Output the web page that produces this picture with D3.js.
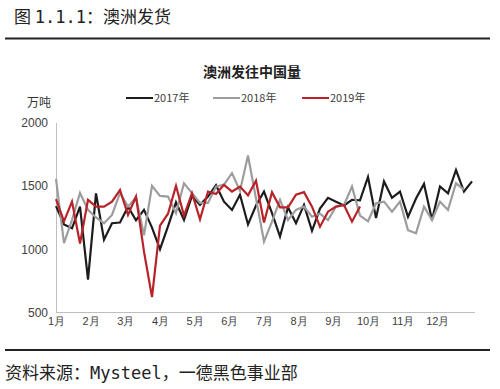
<!DOCTYPE html>
<html>
<head>
<meta charset="utf-8">
<script src="https://cdn.jsdelivr.net/npm/d3@7"></script>
<style>
  body { margin: 0; background: #fff; }
  svg { display: block; font-family: "Noto Sans CJK SC", "Noto Sans", sans-serif; }
</style>
</head>
<body>
<svg id="chart"></svg>
<script>
// weekly shipments, 10k tonnes
const series2017 = [1340, 1195, 1165, 1335, 760, 1440, 1075, 1205, 1210, 1335, 1228, 1310, 1170, 1000,
  1180, 1370, 1230, 1420, 1350, 1415, 1505, 1375, 1310, 1430, 1195, 1345, 1455, 1285, 1100, 1330,
  1205, 1350, 1145, 1320, 1405, 1375, 1345, 1390, 1385, 1570, 1245, 1535, 1405, 1455, 1255, 1400,
  1515, 1230, 1495, 1440, 1625, 1455, 1535]
const series2018 = [1555, 1048, 1230, 1444, 1310, 1250, 1205, 1270, 1444, 1336, 1410, 1110, 1500, 1420,
  1415, 1285, 1520, 1442, 1365, 1365, 1494, 1510, 1600, 1460, 1740, 1400, 1060, 1217, 1389, 1230,
  1310, 1336, 1256, 1280, 1230, 1336, 1349, 1494, 1265, 1220, 1362, 1375, 1296, 1375, 1150, 1126,
  1336, 1230, 1375, 1310, 1521, 1468]
const series2019 = [1395, 1220, 1375, 1045, 1389, 1336, 1336, 1375, 1468, 1270, 1415, 980, 621, 1185,
  1280, 1500, 1265, 1442, 1236, 1455, 1435, 1508, 1455, 1494, 1425, 1540, 1210, 1450, 1330, 1330,
  1430, 1450, 1336, 1177, 1296, 1336, 1349, 1217, 1336]
const seriesNames = ['2017年', '2018年', '2019年']
const seriesColors = ['#1c1c1c', '#9d9d9d', '#b82228']
const monthLabels = ['1月', '2月', '3月', '4月', '5月', '6月', '7月', '8月', '9月', '10月', '11月', '12月']
const yTicks = [500, 1000, 1500, 2000]

const width = 500
const height = 389
const mono = '"DejaVu Sans Mono", "Liberation Mono", monospace'

const svg = d3.select('#chart')
  .attr('width', width)
  .attr('height', height)

// page header + rules
const header = svg.append('text')
  .attr('x', 14).attr('y', 23)
  .style('font-size', '17px').style('fill', '#222')
header.append('tspan').text('图 ')
header.append('tspan').style('font-family', mono).text('1.1.1')
header.append('tspan').text('：澳洲发货')

svg.append('line')
  .attr('x1', 5).attr('x2', 490).attr('y1', 38.5).attr('y2', 38.5)
  .style('stroke', '#222').style('stroke-width', 2)

svg.append('line')
  .attr('x1', 5).attr('x2', 490).attr('y1', 350).attr('y2', 350)
  .style('stroke', '#222').style('stroke-width', 2)

const source = svg.append('text')
  .attr('x', 5).attr('y', 379)
  .style('font-size', '17px').style('fill', '#222')
source.append('tspan').text('资料来源：')
source.append('tspan').style('font-family', mono).text('Mysteel')
source.append('tspan').text('，一德黑色事业部')

// chart title
svg.append('text')
  .attr('x', 252).attr('y', 77)
  .attr('text-anchor', 'middle')
  .style('font-size', '14px').style('font-weight', 'bold').style('fill', '#222')
  .text('澳洲发往中国量')

const x = d3.scaleLinear()
  .domain([0, 52])
  .range([56, 472])

const y = d3.scaleLinear()
  .domain([500, 2000])
  .range([312.5, 122.5])

// axes
const yAxis = svg.append('g')
  .attr('transform', 'translate(56,0)')
  .call(d3.axisLeft(y).tickValues(yTicks).tickFormat(d3.format('d')).tickSize(0).tickPadding(8))
yAxis.select('.domain').style('stroke', '#bfbfbf')
yAxis.selectAll('text').style('font-size', '12px').style('fill', '#404040')
  .style('font-family', '"Liberation Sans", sans-serif')

const xAxis = svg.append('g')
  .attr('transform', 'translate(0,312.5)')
  .call(d3.axisBottom(x)
    .tickValues(monthLabels.map((d, i) => i * 52 / 12))
    .tickFormat((d, i) => monthLabels[i])
    .tickSize(0).tickPadding(5))
xAxis.select('.domain').attr('d', 'M56,0H475').style('stroke', '#bfbfbf')
xAxis.selectAll('text').style('font-size', '11px').style('fill', '#404040')

svg.append('text')
  .attr('x', 27).attr('y', 107)
  .style('font-size', '12px').style('fill', '#333')
  .text('万吨')

// lines
const line = d3.line()
  .x((d, i) => x(i))
  .y(d => y(d))

const allSeries = [series2017, series2018, series2019]
allSeries.forEach((s, k) => {
  svg.append('path')
    .datum(s)
    .attr('d', line)
    .style('fill', 'none')
    .style('stroke', seriesColors[k])
    .style('stroke-width', 2.2)
    .style('stroke-linejoin', 'miter')
})

// legend
const legendX = [126, 213, 302]
seriesNames.forEach((name, k) => {
  svg.append('line')
    .attr('x1', legendX[k]).attr('x2', legendX[k] + 27)
    .attr('y1', 98).attr('y2', 98)
    .style('stroke', seriesColors[k]).style('stroke-width', 2)
  svg.append('text')
    .attr('x', legendX[k] + 28).attr('y', 102)
    .style('font-size', '11px').style('fill', '#404040')
    .text(name)
})
</script>
</body>
</html>
